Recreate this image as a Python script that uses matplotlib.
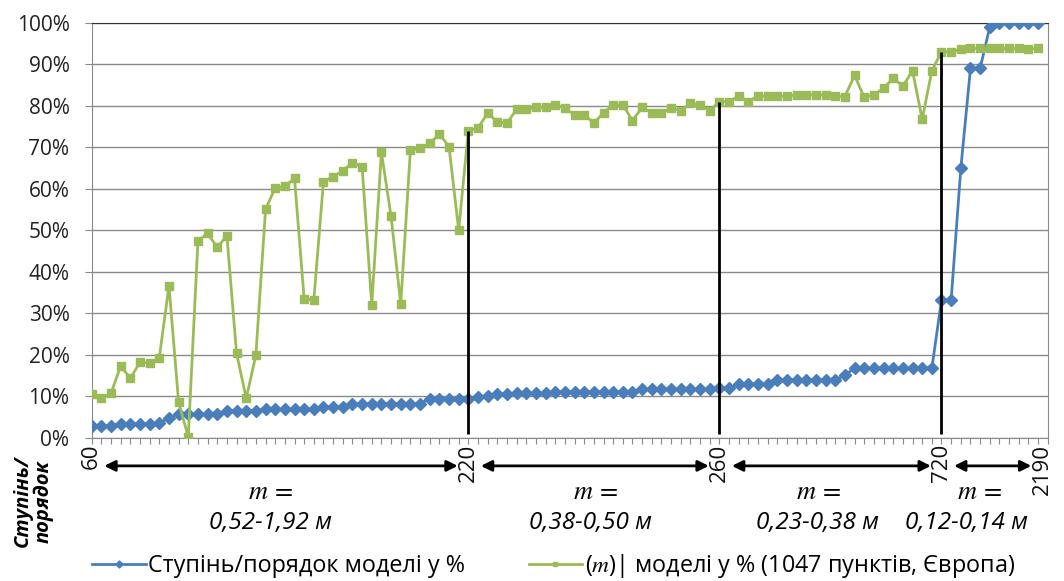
import numpy as np
import matplotlib
matplotlib.use("Agg")
from matplotlib import pyplot as plt

plt.rcParams['font.family'] = ['Open Sans', 'DejaVu Sans']
plt.rcParams['mathtext.fontset'] = 'stix'

# values in %, one per category (99 categories)
order_pct = [2.9, 2.9, 2.9, 3.3, 3.3, 3.3, 3.3, 3.5, 4.8, 5.6,
             5.6, 5.6, 5.6, 5.6, 6.5, 6.5, 6.5, 6.5, 6.8, 6.8,
             6.8, 6.8, 6.8, 6.8, 7.5, 7.4, 7.5, 8.1, 8.2, 8.2,
             8.2, 8.2, 8.2, 8.2, 8.2, 9.4, 9.4, 9.4, 9.4, 9.4,
             9.9, 10.1, 10.5, 10.5, 10.7, 10.7, 10.7, 10.7, 11.0, 11.0,
             11.0, 11.0, 11.0, 11.0, 11.0, 11.0, 11.0, 11.7, 11.7, 11.7,
             11.7, 11.7, 11.7, 11.7, 11.7, 11.9, 11.9, 12.9, 12.9, 12.9,
             12.9, 13.9, 13.9, 13.9, 13.9, 13.9, 13.9, 13.9, 15.1, 16.7,
             16.7, 16.7, 16.7, 16.7, 16.7, 16.7, 16.7, 16.7, 33.2, 33.2,
             64.9, 89.0, 89.0, 99.0, 100, 100, 100, 100, 100]

m_pct = [10.5, 9.5, 10.7, 17.3, 14.3, 18.2, 17.9, 19.3, 36.6, 8.5,
         0.2, 47.4, 49.2, 45.9, 48.6, 20.3, 9.5, 19.9, 55.0, 60.2,
         60.6, 62.5, 33.4, 33.2, 61.7, 62.9, 64.3, 66.3, 65.3, 32.0,
         68.8, 53.3, 32.2, 69.2, 69.8, 70.9, 73.2, 70.1, 50.0, 74.0,
         74.6, 78.2, 76.1, 75.8, 79.1, 79.1, 79.6, 79.6, 80.2, 79.4,
         77.8, 77.8, 75.8, 78.3, 80.2, 80.2, 76.4, 79.6, 78.3, 78.3,
         79.4, 78.8, 80.6, 80.2, 78.8, 81.0, 81.0, 82.3, 81.0, 82.3,
         82.3, 82.3, 82.3, 82.6, 82.6, 82.6, 82.6, 82.3, 82.2, 87.3,
         82.0, 82.6, 84.2, 86.6, 84.7, 88.4, 76.7, 88.4, 93.0, 93.0,
         93.6, 93.8, 93.8, 93.8, 93.8, 93.8, 93.8, 93.6, 93.8]

# boundaries (category index) and their degree labels
bound_idx = [0, 39, 65, 88]
bound_lab = ['60', '220', '260', '720']
last_lab = '2190'
ranges = ['0,52-1,92 м', '0,38-0,50 м', '0,23-0,38 м', '0,12-0,14 м']

blue = '#4A7EBB'
green = '#9BBB59'

x = np.arange(len(order_pct))

fig = plt.figure(figsize=(10.64, 5.81), dpi=100)
ax = fig.add_axes([0.0862, 0.2467, 0.8985, 0.7143])

ax.plot(x, order_pct, color=blue, lw=2, marker='D', ms=6, label='Ступінь/порядок моделі у %', zorder=3)
ax.plot(x, m_pct, color=green, lw=2, marker='s', ms=5.5,
        label='$\\mathregular{(}m\\mathregular{)}$| моделі у % (1047 пунктів, Європа)', zorder=3)

for i in bound_idx[1:]:
    ax.vlines(i, 1, m_pct[i], color='black', lw=2, zorder=4)

ax.set_xlim(0, len(order_pct))
ax.set_ylim(0, 100)
ax.set_yticks(np.arange(0, 101, 10))
ax.set_yticklabels([f'{v}%' for v in range(0, 101, 10)])
ax.set_xticks(np.arange(0, len(order_pct) + 1))
ax.set_xticklabels([])
ax.grid(axis='y', color='#8a8a8a', lw=1)
ax.set_axisbelow(True)
for s in ax.spines.values():
    s.set_color('#8a8a8a')
ax.spines['top'].set_color('#333333')
ax.tick_params(axis='y', length=5, color='#8a8a8a', labelsize=15, pad=11, labelcolor='#222222')
ax.tick_params(axis='x', length=4, color='#8a8a8a')

tr = ax.get_xaxis_transform()
lab_pos = bound_idx + [98.4]
labs = bound_lab + [last_lab]
for p, l in zip(lab_pos, labs):
    ax.text(p, -0.015, l, rotation=90, ha='center', va='top', fontsize=16, transform=tr, color='#111111')

ends = bound_idx + [len(order_pct) - 1]
for k in range(4):
    a, b = ends[k] + 1.3, ends[k + 1] - 1.1
    if k == 3:
        b = 97.3
    ax.annotate('', xy=(b, -0.068), xytext=(a, -0.068), xycoords=tr, textcoords=tr,
                arrowprops=dict(arrowstyle='<|-|>', color='black', lw=2, mutation_scale=16, shrinkA=0, shrinkB=0))

m_x = [18.5, 52.2, 75.2, 91.9]
r_x = [18.5, 51.6, 75.2, 90.6]
for k in range(4):
    ax.text(m_x[k], -0.131, '$m\\,=$', ha='center', va='center', fontsize=19, transform=tr)
    ax.text(r_x[k], -0.206, ranges[k], ha='center', va='center', fontsize=17.5, style='italic', transform=tr)

fig.text(0.031, 0.137, 'Ступінь/\nпорядок', rotation=90, ha='center', va='center',
         fontsize=14.5, fontweight='bold', style='italic', linespacing=1.05)

h, l = ax.get_legend_handles_labels()
fig.legend([h[0]], [l[0]], loc='center left', bbox_to_anchor=(0.078, 0.026), frameon=False,
           fontsize=16.8, handlelength=2.3, handletextpad=0.1, borderaxespad=0, markerscale=0.6)
fig.legend([h[1]], [l[1]], loc='center left', bbox_to_anchor=(0.488, 0.026), frameon=False,
           fontsize=16.8, handlelength=2.3, handletextpad=0.1, borderaxespad=0, markerscale=0.6)

plt.savefig('out.png', dpi=100)
